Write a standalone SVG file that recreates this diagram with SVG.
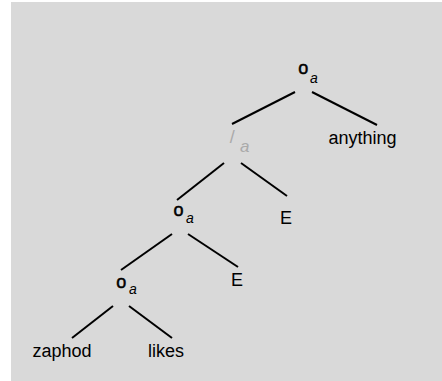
<svg xmlns="http://www.w3.org/2000/svg" width="442" height="381" viewBox="0 0 442 381">
<style>
.lbl{font-family:"Liberation Sans",Arial,sans-serif;font-size:18px;fill:#000;text-anchor:middle}
.op{font-family:"Liberation Sans",Arial,sans-serif;font-size:18px;fill:#000;stroke:#000;stroke-width:0.5;text-anchor:middle}
.sub{font-family:"Liberation Sans",Arial,sans-serif;font-size:14px;font-style:italic;fill:#000}
.gray{fill:#aaaaaa;stroke:none}
.edge{stroke:#000;stroke-width:2;fill:none}
</style>
<rect x="11" y="2" width="431" height="379" fill="#d9d9d9"/>
<g id="connectors">
<line class="edge" x1="295" y1="92" x2="232" y2="124"/>
<line class="edge" x1="312" y1="92" x2="377" y2="125"/>
<line class="edge" x1="224" y1="163" x2="177" y2="200"/>
<line class="edge" x1="241" y1="163" x2="287" y2="196"/>
<line class="edge" x1="172" y1="234" x2="121" y2="270"/>
<line class="edge" x1="188" y1="234" x2="238" y2="267"/>
<line class="edge" x1="113" y1="306" x2="72" y2="338"/>
<line class="edge" x1="129" y1="306" x2="172" y2="338"/>
</g>
<g id="root"><text class="op" x="303.2" y="74">o</text><text class="sub" x="310" y="83">a</text></g>
<g id="slash"><text class="op gray" x="232.3" y="142.5">/</text><text class="sub gray" x="240" y="151.5" style="font-size:17px">a</text></g>
<g id="mid"><text class="op" x="178.5" y="215.5">o</text><text class="sub" x="186" y="223">a</text></g>
<g id="low"><text class="op" x="121.2" y="287.5">o</text><text class="sub" x="129" y="294">a</text></g>
<g id="anything"><text class="lbl" x="362.5" y="144">anything</text></g>
<g id="E1"><text class="lbl" x="286" y="224">E</text></g>
<g id="E2"><text class="lbl" x="237" y="286">E</text></g>
<g id="zaphod"><text class="lbl" x="62" y="357">zaphod</text></g>
<g id="likes"><text class="lbl" x="166" y="357">likes</text></g>
</svg>
